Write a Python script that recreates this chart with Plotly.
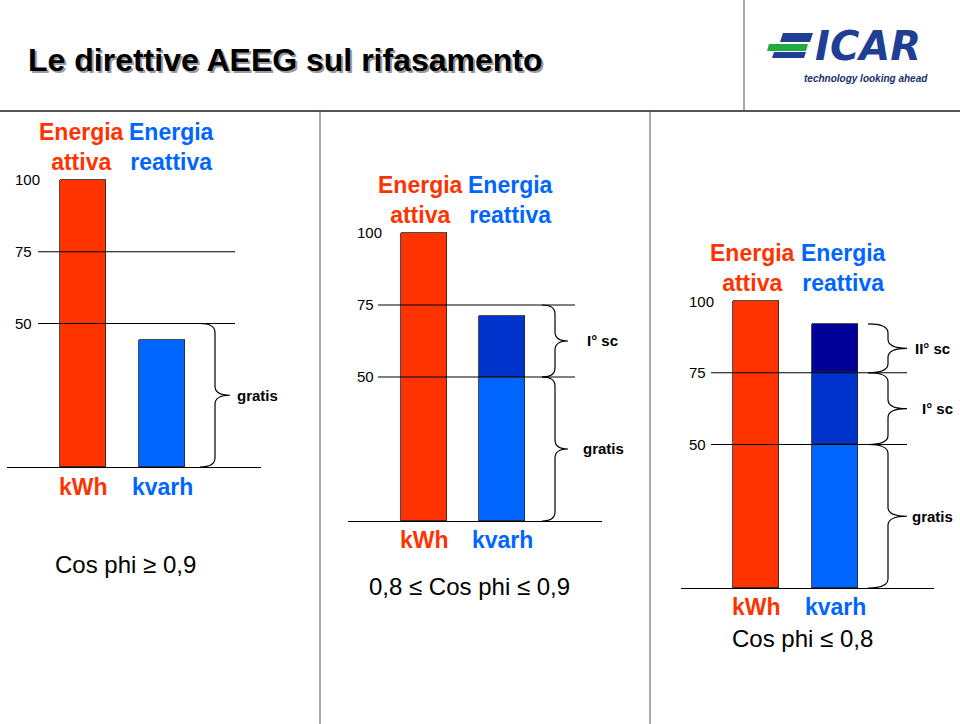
import plotly.graph_objects as go

# ---------------- data ----------------
categories = ["kWh", "kvarh"]
scale_ticks = [50, 75, 100]
energia_attiva = [100, 100, 100]          # kWh bar per panel
reattiva_gratis = [44, 50, 50]            # free part of kvarh
reattiva_I_sc = [0, 21, 25]               # first bracket
reattiva_II_sc = [0, 0, 17]               # second bracket
cosphi_labels = ["Cos phi \u2265 0,9", "0,8 \u2264 Cos phi \u2264 0,9", "Cos phi \u2264 0,8"]
bracket_labels = ["gratis", "I\u00b0 sc", "II\u00b0 sc"]
title_text = "Le direttive AEEG sul rifasamento"

RED = "#ff3300"
BLUE = "#0066ff"
MIDBLUE = "#0033cc"
DARKBLUE = "#000099"
FONT = "Liberation Sans, Arial, sans-serif"

W, H = 960, 724
def px(x):
    return x / W
def py(y):
    return 1 - y / H

# layout geometry (pixels) for each panel
panels = [
    dict(xd=(7, 261), y0=467, y100=180, c0=83, dx=79, lines=(38, 235), tickx=13,
         head_y=146.5, red_hx=81, blue_hx=171, unit_y=487, cos=(125, 564), brace=(200, 215, 230),
         lab_x=[235, None, None]),
    dict(xd=(348, 602), y0=521, y100=233, c0=424, dx=78, lines=(378, 575), tickx=355,
         head_y=200, red_hx=420, blue_hx=510, unit_y=540, cos=(469, 586), brace=(542, 555, 568),
         lab_x=[581, 585, None]),
    dict(xd=(681, 934), y0=588, y100=301, c0=756, dx=79, lines=(711, 907), tickx=687,
         head_y=267.5, red_hx=752, blue_hx=843, unit_y=607, cos=(802, 638), brace=(868, 888, 907),
         lab_x=[910, 920, 913]),
]
# which value ranges each brace covers, per panel
brace_ranges = [
    [(0, 50)],
    [(0, 50), (50, 75)],
    [(0, 50), (50, 75), (75, 92)],
]

fig = go.Figure()
shapes = []
annotations = []
YMAX = 103

def brace_path(x0, x1, xt, ytop, ybot, r):
    ym = (ytop + ybot) / 2
    return (f"M {x0},{ytop} Q {x1},{ytop} {x1},{ytop - r} "
            f"L {x1},{ym + r} Q {x1},{ym} {xt},{ym} "
            f"Q {x1},{ym} {x1},{ym - r} "
            f"L {x1},{ybot + r} Q {x1},{ybot} {x0},{ybot}")

for i, p in enumerate(panels):
    sfx = "" if i == 0 else str(i + 1)
    xa, ya = "x" + sfx, "y" + sfx
    ppu = (p["y0"] - p["y100"]) / 100.0
    ytop_px = p["y0"] - YMAX * ppu
    bw = 46 / p["dx"]
    fig.update_layout(**{
        "xaxis" + sfx: dict(domain=[px(p["xd"][0]), px(p["xd"][1])],
                            range=[(p["xd"][0] - p["c0"]) / p["dx"], (p["xd"][1] - p["c0"]) / p["dx"]],
                            showgrid=False, zeroline=False, showticklabels=False, ticks="",
                            showline=True, linecolor="black", linewidth=1, anchor=ya, fixedrange=True),
        "yaxis" + sfx: dict(domain=[py(p["y0"]), py(ytop_px)], range=[0, YMAX],
                            showgrid=False, zeroline=False, showticklabels=False, ticks="",
                            showline=False, anchor=xa, fixedrange=True),
    })
    line_style = dict(color="#222", width=0.8)
    fig.add_trace(go.Bar(x=[0], y=[energia_attiva[i]], width=bw, marker=dict(color=RED, line=line_style),
                         xaxis=xa, yaxis=ya, hoverinfo="skip"))
    fig.add_trace(go.Bar(x=[1], y=[reattiva_gratis[i]], width=bw, marker=dict(color=BLUE, line=line_style),
                         xaxis=xa, yaxis=ya, hoverinfo="skip"))
    if reattiva_I_sc[i]:
        fig.add_trace(go.Bar(x=[1], y=[reattiva_I_sc[i]], width=bw, marker=dict(color=MIDBLUE, line=line_style),
                             xaxis=xa, yaxis=ya, hoverinfo="skip"))
    if reattiva_II_sc[i]:
        fig.add_trace(go.Bar(x=[1], y=[reattiva_II_sc[i]], width=bw, marker=dict(color=DARKBLUE, line=line_style),
                             xaxis=xa, yaxis=ya, hoverinfo="skip"))

    # horizontal reference lines at 50 and 75
    for v in scale_ticks[:2]:
        shapes.append(dict(type="line", xref="paper", yref=ya, x0=px(p["lines"][0]), x1=px(p["lines"][1]),
                           y0=v, y1=v, line=dict(color="black", width=1), layer="above"))
    # scale labels
    for v in scale_ticks:
        annotations.append(dict(text=str(v), xref="paper", yref=ya, x=px(p["tickx"]), y=v,
                                xanchor="left", yanchor="middle", showarrow=False,
                                font=dict(family=FONT, size=15, color="black")))
    # header
    annotations.append(dict(text="<b>Energia<br>attiva</b>", xref="paper", yref="paper",
                            x=px(p["red_hx"]), y=py(p["head_y"]), xanchor="center", yanchor="middle",
                            showarrow=False, font=dict(family=FONT, size=23, color=RED)))
    annotations.append(dict(text="<b>Energia<br>reattiva</b>", xref="paper", yref="paper",
                            x=px(p["blue_hx"]), y=py(p["head_y"]), xanchor="center", yanchor="middle",
                            showarrow=False, font=dict(family=FONT, size=23, color=BLUE)))
    # units under bars
    for k, (cat, col) in enumerate(zip(categories, [RED, BLUE])):
        annotations.append(dict(text=f"<b>{cat}</b>", xref=xa, yref="paper", x=k, y=py(p["unit_y"]),
                                xanchor="center", yanchor="middle", showarrow=False,
                                font=dict(family=FONT, size=23, color=col)))
    # cos phi
    annotations.append(dict(text=cosphi_labels[i], xref="paper", yref="paper", x=px(p["cos"][0]),
                            y=py(p["cos"][1]), xanchor="center", yanchor="middle", showarrow=False,
                            font=dict(family=FONT, size=24, color="black")))
    # braces
    x0, x1, xt = (px(v) for v in p["brace"])
    r = 9 / ppu
    for k, (lo, hi) in enumerate(brace_ranges[i]):
        rr = min(r, (hi - lo) / 4)
        shapes.append(dict(type="path", xref="paper", yref=ya, path=brace_path(x0, x1, xt, hi, lo, rr),
                           line=dict(color="black", width=1.2), layer="above"))
        annotations.append(dict(text=f"<b>{bracket_labels[k]}</b>", xref="paper", yref=ya,
                                x=px(p["lab_x"][k]), y=(lo + hi) / 2, xanchor="left", yanchor="middle",
                                showarrow=False, font=dict(family=FONT, size=15, color="black")))

# separators
sep = dict(color="#555", width=1)
shapes += [
    dict(type="line", xref="paper", yref="paper", x0=0, x1=1, y0=py(111), y1=py(111), line=dict(color="#555", width=2)),
    dict(type="line", xref="paper", yref="paper", x0=px(320), x1=px(320), y0=py(111), y1=0, line=sep),
    dict(type="line", xref="paper", yref="paper", x0=px(650), x1=px(650), y0=py(111), y1=0, line=sep),
    dict(type="line", xref="paper", yref="paper", x0=px(744), x1=px(744), y0=1, y1=py(111), line=sep),
]

# title with shadow
for dxy, col in [((2, 2), "#9a9a9a"), ((0, 0), "black")]:
    annotations.append(dict(text=f"<b>{title_text}</b>", xref="paper", yref="paper",
                            x=px(26 + dxy[0]), y=py(60 + dxy[1]), xanchor="left", yanchor="middle",
                            showarrow=False, font=dict(family=FONT, size=32, color=col)))

# logo
LOGO_BLUE = "#1f3f94"
LOGO_GREEN = "#22aa44"
def para(xl, xr, yt, yb, sl, col):
    return dict(type="path", xref="paper", yref="paper", fillcolor=col, line=dict(width=0),
                path=f"M {px(xl+sl)},{py(yt)} L {px(xr+sl)},{py(yt)} L {px(xr)},{py(yb)} L {px(xl)},{py(yb)} Z")
shapes += [
    para(780, 810, 33, 42, 3, LOGO_BLUE),
    para(767, 806, 44, 51, 2, LOGO_GREEN),
    para(772, 804, 52, 58, 2, LOGO_BLUE),
]
annotations.append(dict(text="<b><i>ICAR</i></b>", xref="paper", yref="paper", x=px(868), y=py(46),
                        xanchor="center", yanchor="middle", showarrow=False,
                        font=dict(family="DejaVu Sans, " + FONT, size=40, color=LOGO_BLUE)))
annotations.append(dict(text="<b><i>technology looking ahead</i></b>", xref="paper", yref="paper",
                        x=px(866), y=py(78), xanchor="center", yanchor="middle", showarrow=False,
                        font=dict(family=FONT, size=10, color="#1a2f6e")))

fig.update_layout(width=W, height=H, margin=dict(l=0, r=0, t=0, b=0), barmode="stack",
                  showlegend=False, plot_bgcolor="white", paper_bgcolor="white",
                  shapes=shapes, annotations=annotations, bargap=0)
fig.write_html("out.html", config={"displayModeBar": False},
               post_script="document.body.style.margin='0';document.body.style.padding='0';")
